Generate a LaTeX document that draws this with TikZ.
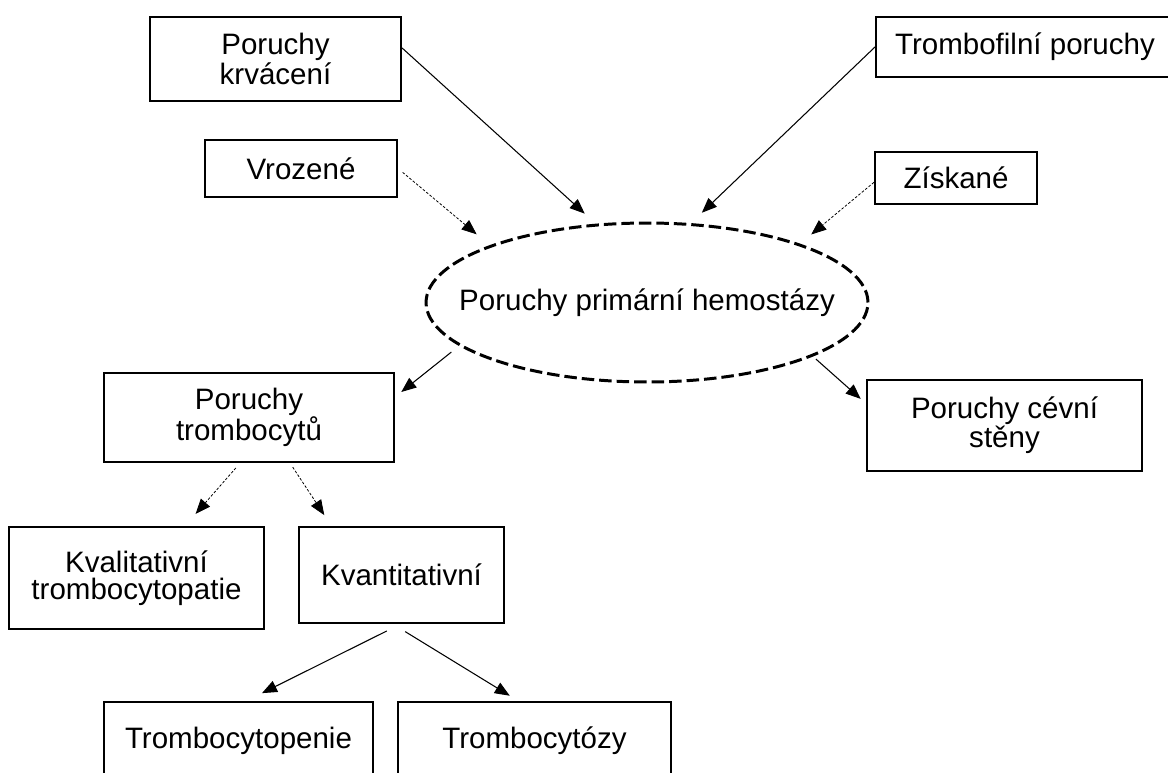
\documentclass[tikz,border=0pt]{standalone}
\usepackage{fontspec}
\setmainfont{Liberation Sans}
\usepackage{tikz}
\usetikzlibrary{arrows.meta,shapes.geometric}
\usepackage{xcolor}

\begin{document}
\begin{tikzpicture}[
			x=0.02cm, y=-0.02cm,
			font=\fontsize{16.8}{15.2}\selectfont,
			% Define styles for the shapes
			box/.style={rectangle, draw, line width=1.2pt, align=center, inner sep=0pt, fill=white},
			group/.style={ellipse, draw, line width=1.7pt, dash pattern=on 0.25cm off 0.1cm, inner sep=0pt, minimum width=8.84cm, minimum height=3.18cm},
			arrow/.style={-{Triangle[length=0.3cm, width=0.24cm]}, line width=0.6pt, color=black},
			dotarrow/.style={arrow, line width=0.45pt, dash pattern=on 1.5pt off 1pt}
			]
			
			\useasboundingbox (0,0) rectangle (1168,773);
			\clip (0,0) rectangle (1168,773);
			
			% --- Nodes ---
			\node (krv) [box, minimum width=5.02cm, minimum height=1.68cm] at (275.5,59) {Poruchy \\ krvácení};
			
			\node (vroz) [box, minimum width=3.84cm, minimum height=1.14cm] at (301,168.5) {Vrozené};
			
			\node (tfil) [box, minimum width=5.96cm, minimum height=1.2cm] at (1025,47) {Trombofilní poruchy};
			
			\node (zisk) [box, minimum width=3.24cm, minimum height=1.04cm] at (956,178) {Získané};
			
			% Center (text as a label, so the ellipse keeps its size)
			\node (ell) [group, label=center:{Poruchy primární hemostázy}] at (647,302.5) {};
			
			\node (trc) [box, minimum width=5.8cm, minimum height=1.78cm] at (249,417.5) {Poruchy \\ trombocytů};
			
			\node (cev) [box, minimum width=5.5cm, minimum height=1.82cm] at (1004.5,425.5) {Poruchy cévní \\ stěny};
			
			\node (kval) [box, minimum width=5.1cm, minimum height=2.04cm] at (136.5,578) {Kvalitativní \\ trombocytopatie};
			
			\node (kvan) [box, minimum width=4.1cm, minimum height=1.92cm] at (401.5,575) {Kvantitativní};
			
			\node (tpen) [box, minimum width=5.38cm, minimum height=1.56cm] at (238.5,741) {Trombocytopenie};
			
			\node (tzy) [box, minimum width=5.46cm, minimum height=1.56cm] at (534.5,741) {Trombocytózy};
			
			% --- Arrows ---
			\draw[arrow, shorten >=0.3cm] (krv.5) -- (ell.123);
			\draw[arrow, shorten >=0.3cm] (tfil.west) -- (ell.61);
			\draw[dotarrow, shorten <=0.12cm, shorten >=0.34cm] (vroz.east) -- (ell.160);
			\draw[dotarrow, shorten >=0.29cm] (zisk.183) -- (ell.21);
			
			% Out of the ellipse
			\draw[arrow, shorten <=0.2cm, shorten >=0.16cm] (ell.193) -- (trc.8);
			\draw[arrow, shorten <=0.08cm, shorten >=0.14cm] (ell.-18) -- (cev.171);
			
			% Platelet branch
			\draw[dotarrow, shorten <=0.13cm, shorten >=0.32cm] (trc.259) -- (kval.47);
			\draw[dotarrow, shorten <=0.1cm, shorten >=0.26cm] (trc.-48) -- (kvan.145);
			\draw[arrow, shorten <=0.31cm, shorten >=0.35cm] (kvan.-91) -- (tpen.79);
			\draw[arrow, shorten <=0.29cm, shorten >=0.2cm] (kvan.260) -- (tzy.112);
			
		\end{tikzpicture}
\end{document}
